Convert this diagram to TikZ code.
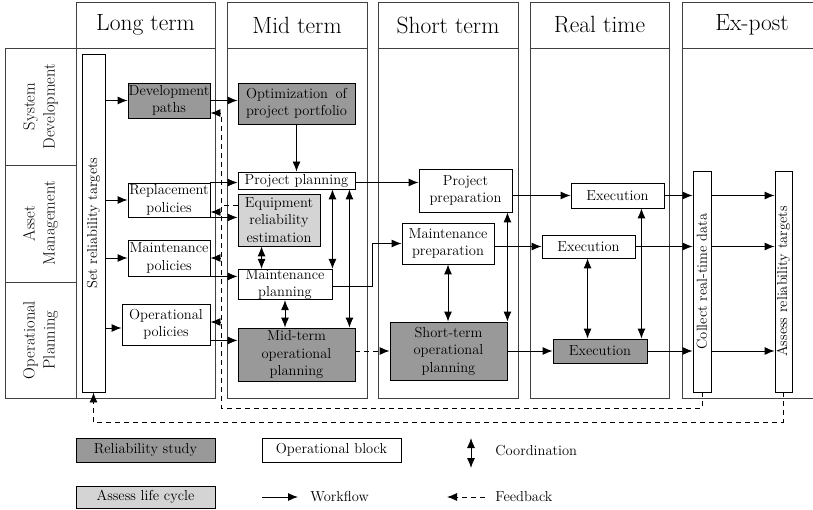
\documentclass[tikz,border=0pt]{standalone}
\usepackage{fontspec}
\usetikzlibrary{arrows.meta}
\begin{document}
\begin{tikzpicture}[x=1pt,y=-1pt,line width=0.9pt,
  txt/.style={font=\fontsize{14.5}{17.5}\selectfont},
  blk/.style={draw=black,rectangle,inner sep=0pt,align=center,txt},
  wbox/.style={blk,fill=white},
  dbox/.style={blk,fill=black!40},
  lbox/.style={blk,fill=black!17},
  colhead/.style={draw=black!75,rectangle,inner sep=0pt,font=\fontsize{23.5}{27}\selectfont},
  colbody/.style={draw=black!75,rectangle,inner sep=0pt},
  rowlab/.style={draw=black!75,rectangle,inner sep=0pt,align=center,rotate=90,font=\fontsize{16.4}{20}\selectfont},
  flow/.style={-{Latex[length=10pt,width=8pt]}},
  coordarrow/.style={{Latex[length=10pt,width=8pt]}-{Latex[length=10pt,width=8pt]}},
  fbline/.style={dash pattern=on 5pt off 4pt},
  fb/.style={fbline,-{Latex[length=10pt,width=8pt]}}]
\useasboundingbox (0,0) rectangle (813,510);

% time-horizon columns
\node[colhead,minimum width=139,minimum height=46] (hlong) at (145.5,25) {Long term};
\node[colbody,minimum width=139,minimum height=350] (blong) at (145.5,223) {};
\node[colhead,minimum width=140,minimum height=46] (hmid) at (297,25) {Mid term};
\node[colbody,minimum width=140,minimum height=350] (bmid) at (297,223) {};
\node[colhead,minimum width=140,minimum height=46] (hshort) at (448,25) {Short term};
\node[colbody,minimum width=140,minimum height=350] (bshort) at (448,223) {};
\node[colhead,minimum width=139,minimum height=46] (hreal) at (599.5,25) {Real time};
\node[colbody,minimum width=139,minimum height=350] (breal) at (599.5,223) {};
\node[colhead,minimum width=140,minimum height=46] (hpost) at (752,25) {Ex-post};
\node[colbody,minimum width=140,minimum height=350] (bpost) at (752,223) {};

% domain rows
\node[rowlab,minimum width=117,minimum height=71] (rsys) at (40.5,106.5) {System\\Development};
\node[rowlab,minimum width=117,minimum height=71] (rasset) at (40.5,223.5) {Asset\\Management};
\node[rowlab,minimum width=116,minimum height=71] (rop) at (40.5,340) {Operational\\Planning};

% long term
\node[wbox,rotate=90,minimum width=338,minimum height=23] (set) at (93.5,223) {Set reliability targets};
\node[dbox,minimum width=82,minimum height=35] (dev) at (169,100.5) {Development\\paths};
\node[wbox,minimum width=82,minimum height=34] (rep) at (169,200) {Replacement\\policies};
\node[wbox,minimum width=82,minimum height=36] (mpol) at (169,258) {Maintenance\\policies};
\node[wbox,minimum width=88,minimum height=41] (opol) at (166,324.5) {Operational\\policies};

% mid term
\node[dbox,minimum width=117,minimum height=41] (opt) at (296.5,103.5)
  {\setbox0\hbox{project portfolio}\makebox[\wd0][s]{Optimization of}\\project portfolio};
\node[wbox,minimum width=117,minimum height=17] (pp) at (296.5,180.5) {Project planning};
\node[lbox,minimum width=82,minimum height=52] (ere) at (279,220) {Equipment\\reliability\\estimation};
\node[wbox,minimum width=94,minimum height=29] (mp) at (285,284.5) {Maintenance\\planning};
\node[dbox,minimum width=117,minimum height=53] (mop) at (296.5,354.5) {Mid-term\\operational\\planning};

% short term
\node[wbox,minimum width=93,minimum height=43] (pprep) at (465.5,190.5) {Project\\preparation};
\node[wbox,minimum width=92,minimum height=41] (mprep) at (448,243.5) {Maintenance\\preparation};
\node[dbox,minimum width=117,minimum height=58] (sop) at (448.5,351) {Short-term\\operational\\planning};

% real time
\node[wbox,minimum width=93,minimum height=25] (ex1) at (617.5,195.5) {Execution};
\node[wbox,minimum width=93,minimum height=23] (ex2) at (588.5,246.5) {Execution};
\node[dbox,minimum width=94,minimum height=24] (ex3) at (600,351) {Execution};

% ex-post
\node[wbox,rotate=90,minimum width=221,minimum height=18] (collect) at (702,281.5) {Collect real-time data};
\node[wbox,rotate=90,minimum width=221,minimum height=17] (assess) at (783.5,281.5) {Assess reliability targets};

% workflow
\draw[flow] (set.south |- dev.west) -- (dev.west);
\draw[flow] (set.south |- rep.west) -- (rep.west);
\draw[flow] (set.south |- mpol.west) -- (mpol.west);
\draw[flow] ([yshift=-3.5pt]set.south |- opol.west) -- ([yshift=-3.5pt]opol.west);
\draw[flow] (dev.east) -- (dev.east -| opt.west);
\draw[flow] (rep.north east) -- (rep.north east -| pp.west);
\draw[flow] (rep.south east) -- (rep.south east -| ere.west);
\draw[flow] (mpol.south east) -- (mpol.south east -| mp.west);
\draw[flow] ([yshift=5pt]opol.south east) -- ([yshift=5pt]opol.south east -| mop.west);
\draw[flow] (opt.south) -- (pp.north);
\draw[flow] ([yshift=-2pt]pp.east) -- ([yshift=-2pt]pp.east -| pprep.west);
\draw[flow] ([yshift=-2pt]mp.east) -| ([xshift=-29pt]mprep.west) -- (mprep.west);
\draw[flow] (pprep.east |- ex1.west) -- (ex1.west);
\draw[flow] (mprep.east |- ex2.west) -- (ex2.west);
\draw[flow] (sop.east |- ex3.west) -- (ex3.west);
\foreach \e in {ex1,ex2,ex3}{
  \draw[flow] (\e.east) -- (\e.east -| collect.north);
  \draw[flow] (collect.south |- \e.east) -- (assess.north |- \e.east);
}

% coordination
\draw[coordarrow] (mp.north east) -- (mp.north east |- pp.south);
\draw[coordarrow] ([xshift=-6pt]pp.south east) -- ([xshift=-6pt]pp.south east |- mop.north);
\draw[coordarrow] ([xshift=24pt]ere.south west) -- ([xshift=24pt]ere.south west |- mp.north);
\draw[coordarrow] (mp.south) -- (mp.south |- mop.north);
\draw[coordarrow] (mprep.south) -- (mprep.south |- sop.north);
\draw[coordarrow] (sop.north east) -- (sop.north east |- pprep.south);
\draw[coordarrow] ([xshift=35pt]ex3.north west) -- ([xshift=35pt]ex3.north west |- ex2.south);
\draw[coordarrow] ([xshift=-6pt]ex3.north east) -- ([xshift=-6pt]ex3.north east |- ex1.south);

% feedback
\coordinate (bust) at (221,113);
\coordinate (busb) at (221,408);
\coordinate (lowy) at (0,422);
\draw[fbline] (collect.west) |- (busb) -- (bust);
\draw[fb] ([yshift=-12.5pt]dev.east -| bust) -- ([yshift=-12.5pt]dev.east);
\draw[fb] ([yshift=-12pt]rep.east -| bust) -- ([yshift=-12pt]rep.east);
\draw[fb] (mpol.east -| bust) -- (mpol.east);
\draw[fb] ([yshift=2.5pt]opol.east -| bust) -- ([yshift=2.5pt]opol.east);
\draw[fbline] ([yshift=15pt]ere.west) -- ([yshift=15pt]ere.west -| bust);
\draw[fb] (mop.east |- sop.west) -- (sop.west);
\draw[fb] (assess.west) |- (set.west |- lowy) -- (set.west);

% legend
\node[dbox,minimum width=139,minimum height=24] (legrel) at (145.5,450) {Reliability study};
\node[wbox,minimum width=139,minimum height=24] (legop) at (331.5,450) {Operational block};
\node[lbox,minimum width=139,minimum height=22] (leglife) at (145.5,497) {Assess life cycle};
\node[txt,anchor=west,inner sep=0pt] (legco) at (495,451) {Coordination};
\node[txt,anchor=west,inner sep=0pt] (legwf) at (310,497) {Workflow};
\node[txt,anchor=west,inner sep=0pt] (legfb) at (495,497) {Feedback};
\coordinate (co1) at (471,438);
\coordinate (co2) at (471,468);
\coordinate (wf1) at (262,497);
\coordinate (wf2) at (298,497);
\coordinate (fb1) at (485,497);
\coordinate (fb2) at (447,497);
\draw[coordarrow] (co1) -- (co2);
\draw[flow] (wf1) -- (wf2);
\draw[fb] (fb1) -- (fb2);
\end{tikzpicture}
\end{document}
